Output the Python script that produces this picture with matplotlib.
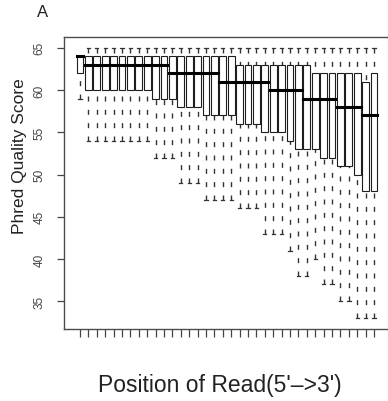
import matplotlib
matplotlib.use('Agg')

import matplotlib.pyplot as plt
from matplotlib.patches import Rectangle

plt.rcParams['font.family'] = ['Liberation Sans', 'DejaVu Sans']

# per-position box stats (36 read positions)
positions = list(range(1, 37))
med = [64, 63, 63, 63, 63, 63, 63, 63, 63, 63, 63, 62, 62, 62, 62, 62, 62, 61,
       61, 61, 61, 61, 61, 60, 60, 60, 60, 59, 59, 59, 59, 58, 58, 58, 57, 57]
q3 = [64, 64, 64, 64, 64, 64, 64, 64, 64, 64, 64, 64, 64, 64, 64, 64, 64, 64,
      64, 63, 63, 63, 63, 63, 63, 63, 63, 63, 62, 62, 62, 62, 62, 62, 61, 62]
q1 = [62, 60, 60, 60, 60, 60, 60, 60, 60, 59, 59, 59, 58, 58, 58, 57, 57, 57,
      57, 56, 56, 56, 55, 55, 55, 54, 53, 53, 53, 52, 52, 51, 51, 50, 48, 48]
whis_hi = [64, 65, 65, 65, 65, 65, 65, 65, 65, 65, 65, 65, 65, 65, 65, 65, 65, 65,
           65, 65, 65, 65, 65, 65, 65, 65, 65, 65, 65, 65, 65, 65, 65, 65, 65, 65]
whis_lo = [59, 54, 54, 54, 54, 54, 54, 54, 54, 52, 52, 52, 49, 49, 49, 47, 47, 47,
           47, 46, 46, 46, 43, 43, 43, 41, 38, 38, 40, 37, 37, 35, 35, 33, 33, 33]
yticks = [35, 40, 45, 50, 55, 60, 65]

fig = plt.figure(figsize=(3.88, 4.02), dpi=100)
ax = fig.add_axes([64 / 388, 72 / 402, 328 / 388, 292 / 402])

box_w = 0.8
cap_w = 0.4
edge = '#1e1e1e'
wcol = '#333333'

for x, m, lo, hi, wl, wh in zip(positions, med, q1, q3, whis_lo, whis_hi):
    # whiskers drawn from the end toward the box so dashes start at the staple
    if wh > hi:
        ax.plot([x, x], [wh, hi], color=wcol, lw=1.0, linestyle=(0, (3.6, 6)), zorder=1)
    if wl < lo:
        ax.plot([x, x], [wl, lo], color=wcol, lw=1.0, linestyle=(0, (3.6, 6)), zorder=1)
    ax.plot([x - cap_w / 2, x + cap_w / 2], [wh, wh], color=wcol, lw=0.9, zorder=1)
    ax.plot([x - cap_w / 2, x + cap_w / 2], [wl, wl], color=wcol, lw=0.9, zorder=1)
    ax.add_patch(Rectangle((x - box_w / 2, lo), box_w, hi - lo, facecolor='white',
                           edgecolor=edge, lw=0.8, zorder=2))
    ax.plot([x - box_w / 2, x + box_w / 2], [m, m], color='black', lw=2.2,
            solid_capstyle='projecting', zorder=3)

ax.set_xlim(-0.905, 38.14)
ax.set_ylim(31.72, 66.28)

ax.set_yticks(yticks)
ax.set_yticklabels([str(v) for v in yticks], rotation=90, va='center',
                   fontsize=8.5, color='#444444')
ax.set_xticks(positions)
ax.set_xticklabels([])
ax.tick_params(axis='y', direction='out', length=5, width=0.9, color='#444444', pad=8.5)
ax.tick_params(axis='x', direction='out', length=5.5, width=0.9, color='#444444')

for s in ax.spines.values():
    s.set_color('#4d4d4d')
    s.set_linewidth(1.0)

fig.text(20 / 388, 1 - 156 / 402, 'Phred Quality Score', rotation=90,
         ha='center', va='center', fontsize=12.5, color='#222222')
fig.text(220 / 388, 1 - 386 / 402, "Position of Read(5'\u2013>3')",
         ha='center', va='center', fontsize=16.5, color='#222222')
fig.text(42.5 / 388, 1 - 12.5 / 402, 'A', ha='center', va='center',
         fontsize=12, color='#222222')

fig.savefig('out.png', dpi=100)
plt.close()
